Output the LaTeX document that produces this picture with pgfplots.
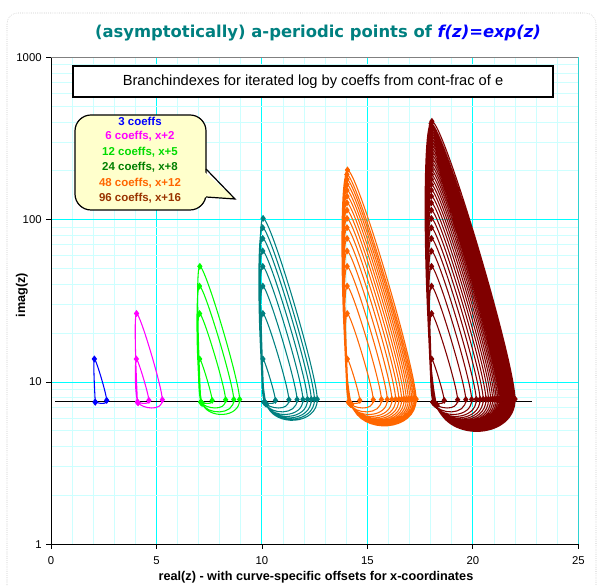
\documentclass[border=0pt]{standalone}
\usepackage{pgfplots}
\pgfplotsset{compat=1.18}
\usepackage{fontspec}
\setmainfont{Liberation Sans}
\newfontfamily\titlefont{DejaVu Sans}
\definecolor{cmajor}{RGB}{0,255,255}
\definecolor{cminor}{RGB}{205,255,255}
\definecolor{cblue}{RGB}{0,0,255}
\definecolor{cmag}{RGB}{255,0,255}
\definecolor{cgreen}{RGB}{0,255,0}
\definecolor{cgreentxt}{RGB}{0,220,0}
\definecolor{cteal}{RGB}{0,128,128}
\definecolor{cdkgreen}{RGB}{0,128,0}
\definecolor{corange}{RGB}{255,102,0}
\definecolor{cdkred}{RGB}{128,0,0}
\definecolor{cbrown}{RGB}{153,51,0}
\definecolor{cyellow}{RGB}{255,255,204}
\begin{document}
\begin{tikzpicture}[x=0.75pt,y=0.75pt]
\useasboundingbox (0,0) rectangle (598,585);
\draw[gray!60, densely dotted, rounded corners=8] (7,-20) rectangle (596,572);
\begin{axis}[
  at={(38.25pt,30.5pt)}, anchor=south west,
  scale only axis, width=395.5pt, height=365.25pt,
  xmin=0, xmax=25, ymin=1, ymax=1000, ymode=log,
  axis x line*=bottom, axis y line*=left,
  axis line style={black, line width=0.75pt},
  xtick={0,5,10,15,20,25}, minor xtick={1,2,3,4,6,7,8,9,11,12,13,14,16,17,18,19,21,22,23,24},
  ytick={1,10,100,1000},
  log ticks with fixed point,
  /pgf/number format/1000 sep={},
  grid=both,
  major grid style={draw=cmajor, line width=0.75pt},
  minor grid style={draw=cminor, line width=0.6pt},
  tick align=outside, major tick length=3.5pt, minor tick length=0pt,
  tick style={black, line width=0.6pt},
  ticklabel style={font=\fontsize{8.5}{10}\selectfont},
  xticklabel style={yshift=-2pt},
  /pgf/number format/assume math mode=true,
  clip=true,
  every axis plot/.append style={line width=0.8pt, smooth, tension=0.5, mark=diamond*, mark size=2pt, mark options={solid}},
]
\draw[gray, line width=0.6pt] (rel axis cs:0,1) -- (rel axis cs:1,1) -- (rel axis cs:1,0);
% 3 coeffs
\addplot[color=cblue] coordinates {(2.098,7.524) (2.640,7.707) (2.056,13.865) (2.098,7.524)};
% 6 coeffs, x+2
\addplot[color=cmag] coordinates {(4.098,7.524) (4.640,7.707) (4.048,13.858) (4.133,7.455) (5.278,7.777) (4.056,26.432) (4.098,7.524)};
% 12 coeffs, x+5
\addplot[color=cgreen] coordinates {
(7.098,7.524) (7.640,7.707) (7.048,13.858)
(7.133,7.455) (8.278,7.777) (7.044,26.421)
(7.154,7.415) (8.664,7.802) (7.041,38.984)
(7.169,7.387) (8.943,7.814) (7.056,51.564)
(7.098,7.524)};
% 24 coeffs, x+8
\addplot[color=cteal] coordinates {
(10.098,7.524) (10.640,7.707) (10.048,13.858)
(10.133,7.455) (11.278,7.777) (10.044,26.421)
(10.154,7.415) (11.664,7.802) (10.041,38.984)
(10.169,7.387) (11.943,7.814) (10.039,51.548)
(10.182,7.365) (12.161,7.822) (10.037,64.113)
(10.192,7.348) (12.340,7.827) (10.036,76.677)
(10.200,7.333) (12.491,7.831) (10.034,89.243)
(10.208,7.321) (12.623,7.834) (10.056,101.830)
(10.098,7.524)};
% 48 coeffs, x+12
\addplot[color=corange] coordinates {
(14.098,7.524) (14.640,7.707) (14.048,13.858)
(14.133,7.455) (15.278,7.777) (14.044,26.421)
(14.154,7.415) (15.664,7.802) (14.041,38.984)
(14.169,7.387) (15.943,7.814) (14.039,51.548)
(14.182,7.365) (16.161,7.822) (14.037,64.113)
(14.192,7.348) (16.340,7.827) (14.036,76.677)
(14.200,7.333) (16.491,7.831) (14.034,89.243)
(14.208,7.321) (16.623,7.834) (14.033,101.808)
(14.215,7.310) (16.740,7.836) (14.032,114.373)
(14.221,7.300) (16.844,7.838) (14.031,126.939)
(14.226,7.292) (16.938,7.839) (14.031,139.504)
(14.231,7.284) (17.024,7.841) (14.030,152.069)
(14.236,7.277) (17.104,7.842) (14.029,164.635)
(14.240,7.270) (17.177,7.843) (14.029,177.200)
(14.245,7.264) (17.246,7.843) (14.028,189.767)
(14.248,7.259) (17.310,7.844) (14.056,202.361)
(14.098,7.524)};
% 96 coeffs, x+16
\addplot[color=cdkred] coordinates {
(18.098,7.524) (18.640,7.707) (18.048,13.858)
(18.133,7.455) (19.278,7.777) (18.044,26.421)
(18.154,7.415) (19.664,7.802) (18.041,38.984)
(18.169,7.387) (19.943,7.814) (18.039,51.548)
(18.182,7.365) (20.161,7.822) (18.037,64.113)
(18.192,7.348) (20.340,7.827) (18.036,76.677)
(18.200,7.333) (20.491,7.831) (18.034,89.243)
(18.208,7.321) (20.623,7.834) (18.033,101.808)
(18.215,7.310) (20.740,7.836) (18.032,114.373)
(18.221,7.300) (20.844,7.838) (18.031,126.939)
(18.226,7.292) (20.938,7.839) (18.031,139.504)
(18.231,7.284) (21.024,7.841) (18.030,152.069)
(18.236,7.277) (21.104,7.842) (18.029,164.635)
(18.240,7.270) (21.177,7.843) (18.029,177.200)
(18.245,7.264) (21.246,7.843) (18.028,189.767)
(18.248,7.259) (21.310,7.844) (18.028,202.332)
(18.252,7.254) (21.370,7.845) (18.027,214.897)
(18.255,7.249) (21.427,7.845) (18.027,227.464)
(18.259,7.244) (21.481,7.846) (18.026,240.029)
(18.262,7.240) (21.532,7.846) (18.026,252.595)
(18.265,7.236) (21.580,7.846) (18.025,265.161)
(18.268,7.232) (21.627,7.847) (18.025,277.727)
(18.270,7.228) (21.671,7.847) (18.025,290.293)
(18.273,7.225) (21.713,7.847) (18.024,302.859)
(18.275,7.222) (21.754,7.848) (18.024,315.424)
(18.278,7.218) (21.793,7.848) (18.024,327.991)
(18.280,7.215) (21.831,7.848) (18.023,340.556)
(18.282,7.212) (21.867,7.848) (18.023,353.122)
(18.284,7.210) (21.902,7.848) (18.023,365.689)
(18.287,7.207) (21.936,7.849) (18.023,378.254)
(18.289,7.204) (21.968,7.849) (18.022,390.820)
(18.291,7.202) (22.000,7.849) (18.056,403.423)
(18.098,7.524)};
\addplot[black, no marks, sharp plot] coordinates {(0.2,7.5886) (22.8,7.5886)};
\end{axis}
% title
\node[font=\titlefont\bfseries\fontsize{12.3}{14}\selectfont, text=cteal, anchor=center] at (318,552)
  {(asymptotically) a-periodic points of \textcolor{cblue}{\itshape f(z)=exp(z)}};
% axis labels
\node[font=\bfseries\fontsize{9.5}{11}\selectfont, rotate=90] at (22,290) {imag(z)};
\node[font=\bfseries\fontsize{9.5}{11}\selectfont] at (316,8) {real(z) - with curve-specific offsets for x-coordinates};
% text box
\node[draw=black, line width=1.2pt, fill=white, minimum width=360pt, minimum height=23.25pt, inner sep=0pt,
      font=\fontsize{11}{13}\selectfont] at (313,503.5) {Branchindexes for iterated log by coeffs from cont-frac of e};
% callout
\draw[fill=cyellow, line width=0.9pt, rounded corners=12] (75,375) rectangle (206,470);
\fill[cyellow] (200,417) -- (235,386) -- (200,388) -- cycle;
\draw[line width=0.9pt] (206,416) -- (235,386) -- (206,388);
\begin{scope}[every node/.style={font=\bfseries\fontsize{8.6}{10}\selectfont, anchor=center}]
\node[text=cblue] at (140,464) {3 coeffs};
\node[text=cmag] at (140,448.5) {6 coeffs, x+2};
\node[text=cgreentxt] at (140,433) {12 coeffs, x+5};
\node[text=cdkgreen] at (140,417.5) {24 coeffs, x+8};
\node[text=corange] at (140,402) {48 coeffs, x+12};
\node[text=cbrown] at (140,386.5) {96 coeffs, x+16};
\end{scope}
\end{tikzpicture}
\end{document}
